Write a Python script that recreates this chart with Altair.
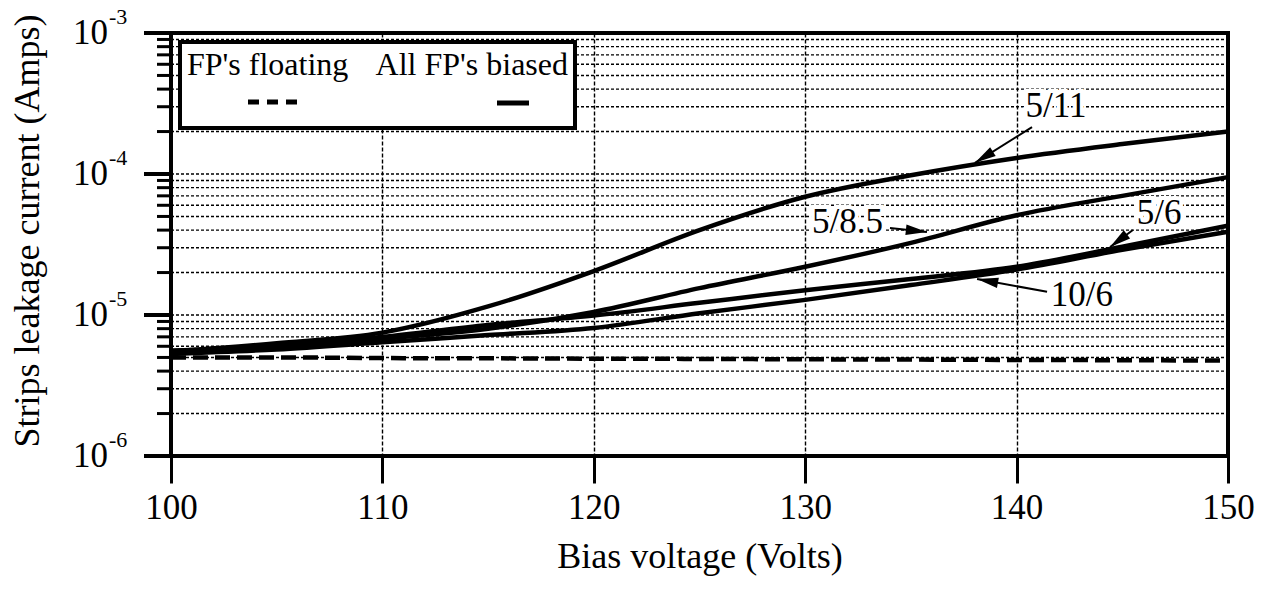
import math
import altair as alt
import pandas as pd

# ---------------- data ----------------
V = [100, 105, 110, 115, 120, 125, 130, 135, 140, 145, 150]
I_5_11 = [5.5e-6, 6.3e-6, 7.5e-6, 1.15e-5, 2.05e-5, 4.0e-5, 6.9e-5, 9.8e-5, 1.3e-4, 1.63e-4, 2.0e-4]
I_5_85 = [5.5e-6, 6.0e-6, 6.8e-6, 8.0e-6, 1.05e-5, 1.55e-5, 2.2e-5, 3.25e-5, 5.1e-5, 7.0e-5, 9.5e-5]
I_5_6 = [5.6e-6, 6.0e-6, 7.0e-6, 8.5e-6, 9.9e-6, 1.22e-5, 1.5e-5, 1.8e-5, 2.2e-5, 3.05e-5, 4.3e-5]
I_10_6 = [5.3e-6, 5.7e-6, 6.4e-6, 7.2e-6, 8.1e-6, 1.03e-5, 1.28e-5, 1.63e-5, 2.1e-5, 2.9e-5, 3.9e-5]
I_float = [5.0e-6, 5.0e-6, 4.95e-6, 4.93e-6, 4.9e-6, 4.88e-6, 4.85e-6, 4.83e-6, 4.8e-6, 4.78e-6, 4.75e-6]

x_ticks = [100, 110, 120, 130, 140, 150]
y_major = [1e-6, 1e-5, 1e-4, 1e-3]
y_exp = ["-6", "-5", "-4", "-3"]

ann_labels = ["5/11", "5/8.5", "5/6", "10/6"]
ann_text_v = [141.86, 132.0, 146.74, 143.09]
ann_text_i = [3.03e-4, 4.57e-5, 5.29e-5, 1.39e-5]
ann_from_v = [140.73, 134.01, 145.5, 141.44]
ann_from_i = [2.15e-4, 4.14e-5, 4.01e-5, 1.46e-5]
ann_tip_v = [138.03, 135.76, 144.42, 138.13]
ann_tip_i = [1.20e-4, 3.88e-5, 3.03e-5, 1.80e-5]

legend_left = "FP's floating"
legend_right = "All FP's biased"
x_title = "Bias voltage (Volts)"
y_title = "Strips leakage current (Amps)"

# ---------------- layout ----------------
W, H = 1057, 423
FONT = "Liberation Serif"
X0, X1 = 100, 150
Y0, Y1 = 1e-6, 1e-3

xs = alt.Scale(domain=[X0, X1], nice=False, zero=False)
ys = alt.Scale(type="log", domain=[Y0, Y1], nice=False)

x_axis = alt.Axis(values=x_ticks, format="d", tickSize=27, tickWidth=3, tickColor="black",
                  labelFont=FONT, labelFontSize=35, labelColor="black", labelPadding=7,
                  labelFlush=False, labelOverlap=False,
                  grid=True, gridColor="black", gridDash=[4, 2], gridWidth=1.4,
                  domain=False, title=x_title, titleFont=FONT, titleFontSize=36,
                  titleFontWeight="normal", titleColor="black", titlePadding=14)

def X(field):
    return alt.X(field, type="quantitative", scale=xs, axis=x_axis)

def Y(field):
    return alt.Y(field, type="quantitative", scale=ys, axis=None)

# curves
rows = []
for name, arr in [("5/11", I_5_11), ("5/8.5", I_5_85), ("5/6", I_5_6), ("10/6", I_10_6)]:
    for v, i in zip(V, arr):
        rows.append({"V": v, "I": i, "s": name})
curves_df = pd.DataFrame(rows)
float_df = pd.DataFrame({"V": V, "I": I_float})

# grid values (minor + major inside)
grid_vals = []
for e in [-6, -5, -4]:
    for k in range(1, 10):
        val = k * 10.0 ** e
        if val > Y0 * 1.0001:
            grid_vals.append(val)
grid_df = pd.DataFrame({"I": grid_vals})
minor_df = pd.DataFrame({"I": [g for g in grid_vals if abs(math.log10(g) - round(math.log10(g))) > 1e-6]})
major_df = pd.DataFrame({"I": y_major, "base": ["10"] * 4, "exp": y_exp})

# annotation table, arrow angle derived from the scales
def px(v):
    return (v - X0) / (X1 - X0) * W

def py(i):
    return (math.log10(Y1) - math.log10(i)) / (math.log10(Y1) - math.log10(Y0)) * H

angles = []
for fv, fi, tv, ti in zip(ann_from_v, ann_from_i, ann_tip_v, ann_tip_i):
    dx = px(tv) - px(fv)
    dy = py(ti) - py(fi)
    angles.append(math.degrees(math.atan2(dx, -dy)) % 360)
ann_df = pd.DataFrame({"label": ann_labels, "tv": ann_text_v, "ti": ann_text_i,
                       "fv": ann_from_v, "fi": ann_from_i, "hv": ann_tip_v, "hi": ann_tip_i,
                       "ang": angles})

one = pd.DataFrame({"a": [0]})

hgrid = alt.Chart(grid_df).mark_rule(color="black", strokeWidth=1.4, strokeDash=[3, 2]).encode(
    y=Y("I"), x=alt.value(0), x2=alt.value(W))
minor_ticks = alt.Chart(minor_df).mark_rule(color="black", strokeWidth=3).encode(
    y=Y("I"), x=alt.value(-14), x2=alt.value(0))
major_ticks = alt.Chart(major_df).mark_rule(color="black", strokeWidth=4).encode(
    y=Y("I"), x=alt.value(-27), x2=alt.value(0))

legend_box = alt.Chart(one).mark_rect(fill="white", stroke="black", strokeWidth=4).encode(
    x=alt.value(9), x2=alt.value(404), y=alt.value(9), y2=alt.value(95))
leg_t1 = alt.Chart(one).mark_text(text=legend_left, font=FONT, fontSize=32, align="left",
                                  baseline="middle", color="black").encode(
    x=alt.value(16), y=alt.value(32))
leg_t2 = alt.Chart(one).mark_text(text=legend_right, font=FONT, fontSize=32, align="right",
                                  baseline="middle", color="black").encode(
    x=alt.value(397), y=alt.value(32))
leg_dash = alt.Chart(one).mark_rule(color="black", strokeWidth=5, strokeDash=[11, 8]).encode(
    x=alt.value(77), x2=alt.value(133), y=alt.value(69))
leg_solid = alt.Chart(one).mark_rule(color="black", strokeWidth=5).encode(
    x=alt.value(326), x2=alt.value(358), y=alt.value(70))

solid = alt.Chart(curves_df).mark_line(color="black", strokeWidth=4.5, interpolate="monotone").encode(
    x=X("V"), y=Y("I"), detail="s:N")
dashed = alt.Chart(float_df).mark_line(color="black", strokeWidth=4.5, strokeDash=[15, 7],
                                       interpolate="monotone").encode(x=X("V"), y=Y("I"))

arrows = alt.Chart(ann_df).mark_rule(color="black", strokeWidth=2).encode(
    x=X("fv"), y=Y("fi"), x2="hv", y2="hi")
heads = alt.Chart(ann_df).mark_point(shape="M0,0L0.42,1.7L-0.42,1.7Z", filled=True, size=620,
                                     color="black", opacity=1).encode(
    x=X("hv"), y=Y("hi"), angle=alt.Angle("ang:Q", scale=None))
ann_bg = alt.Chart(ann_df).mark_text(font=FONT, fontSize=35, stroke="white", strokeWidth=8,
                                     color="white", baseline="middle", align="center").encode(
    x=X("tv"), y=Y("ti"), text="label:N")
ann_txt = alt.Chart(ann_df).mark_text(font=FONT, fontSize=35, color="black", baseline="middle",
                                      align="center").encode(
    x=X("tv"), y=Y("ti"), text="label:N")

ylab_base = alt.Chart(major_df).mark_text(font=FONT, fontSize=35, color="black", align="right",
                                          baseline="middle").encode(
    y=Y("I"), x=alt.value(-63), text="base:N")
ylab_exp = alt.Chart(major_df).mark_text(font=FONT, fontSize=22, color="black", align="left",
                                         baseline="middle", dy=-16).encode(
    y=Y("I"), x=alt.value(-62), text="exp:N")
ytitle = alt.Chart(one).mark_text(text=y_title, font=FONT, fontSize=36, color="black", angle=270,
                                  align="center", baseline="middle").encode(
    x=alt.value(-143), y=alt.value(198))

chart = alt.layer(
    hgrid, minor_ticks, major_ticks, legend_box, leg_t1, leg_t2, leg_dash, leg_solid,
    solid, dashed, arrows, heads, ann_bg, ann_txt, ylab_base, ylab_exp, ytitle
).properties(
    width=W, height=H,
    autosize=alt.AutoSizeParams(type="none"),
    padding={"left": 171, "top": 33, "right": 37, "bottom": 135},
    background="white",
).configure_view(stroke="black", strokeWidth=4)

chart.save("out.html", embed_options={"renderer": "svg", "actions": False})
